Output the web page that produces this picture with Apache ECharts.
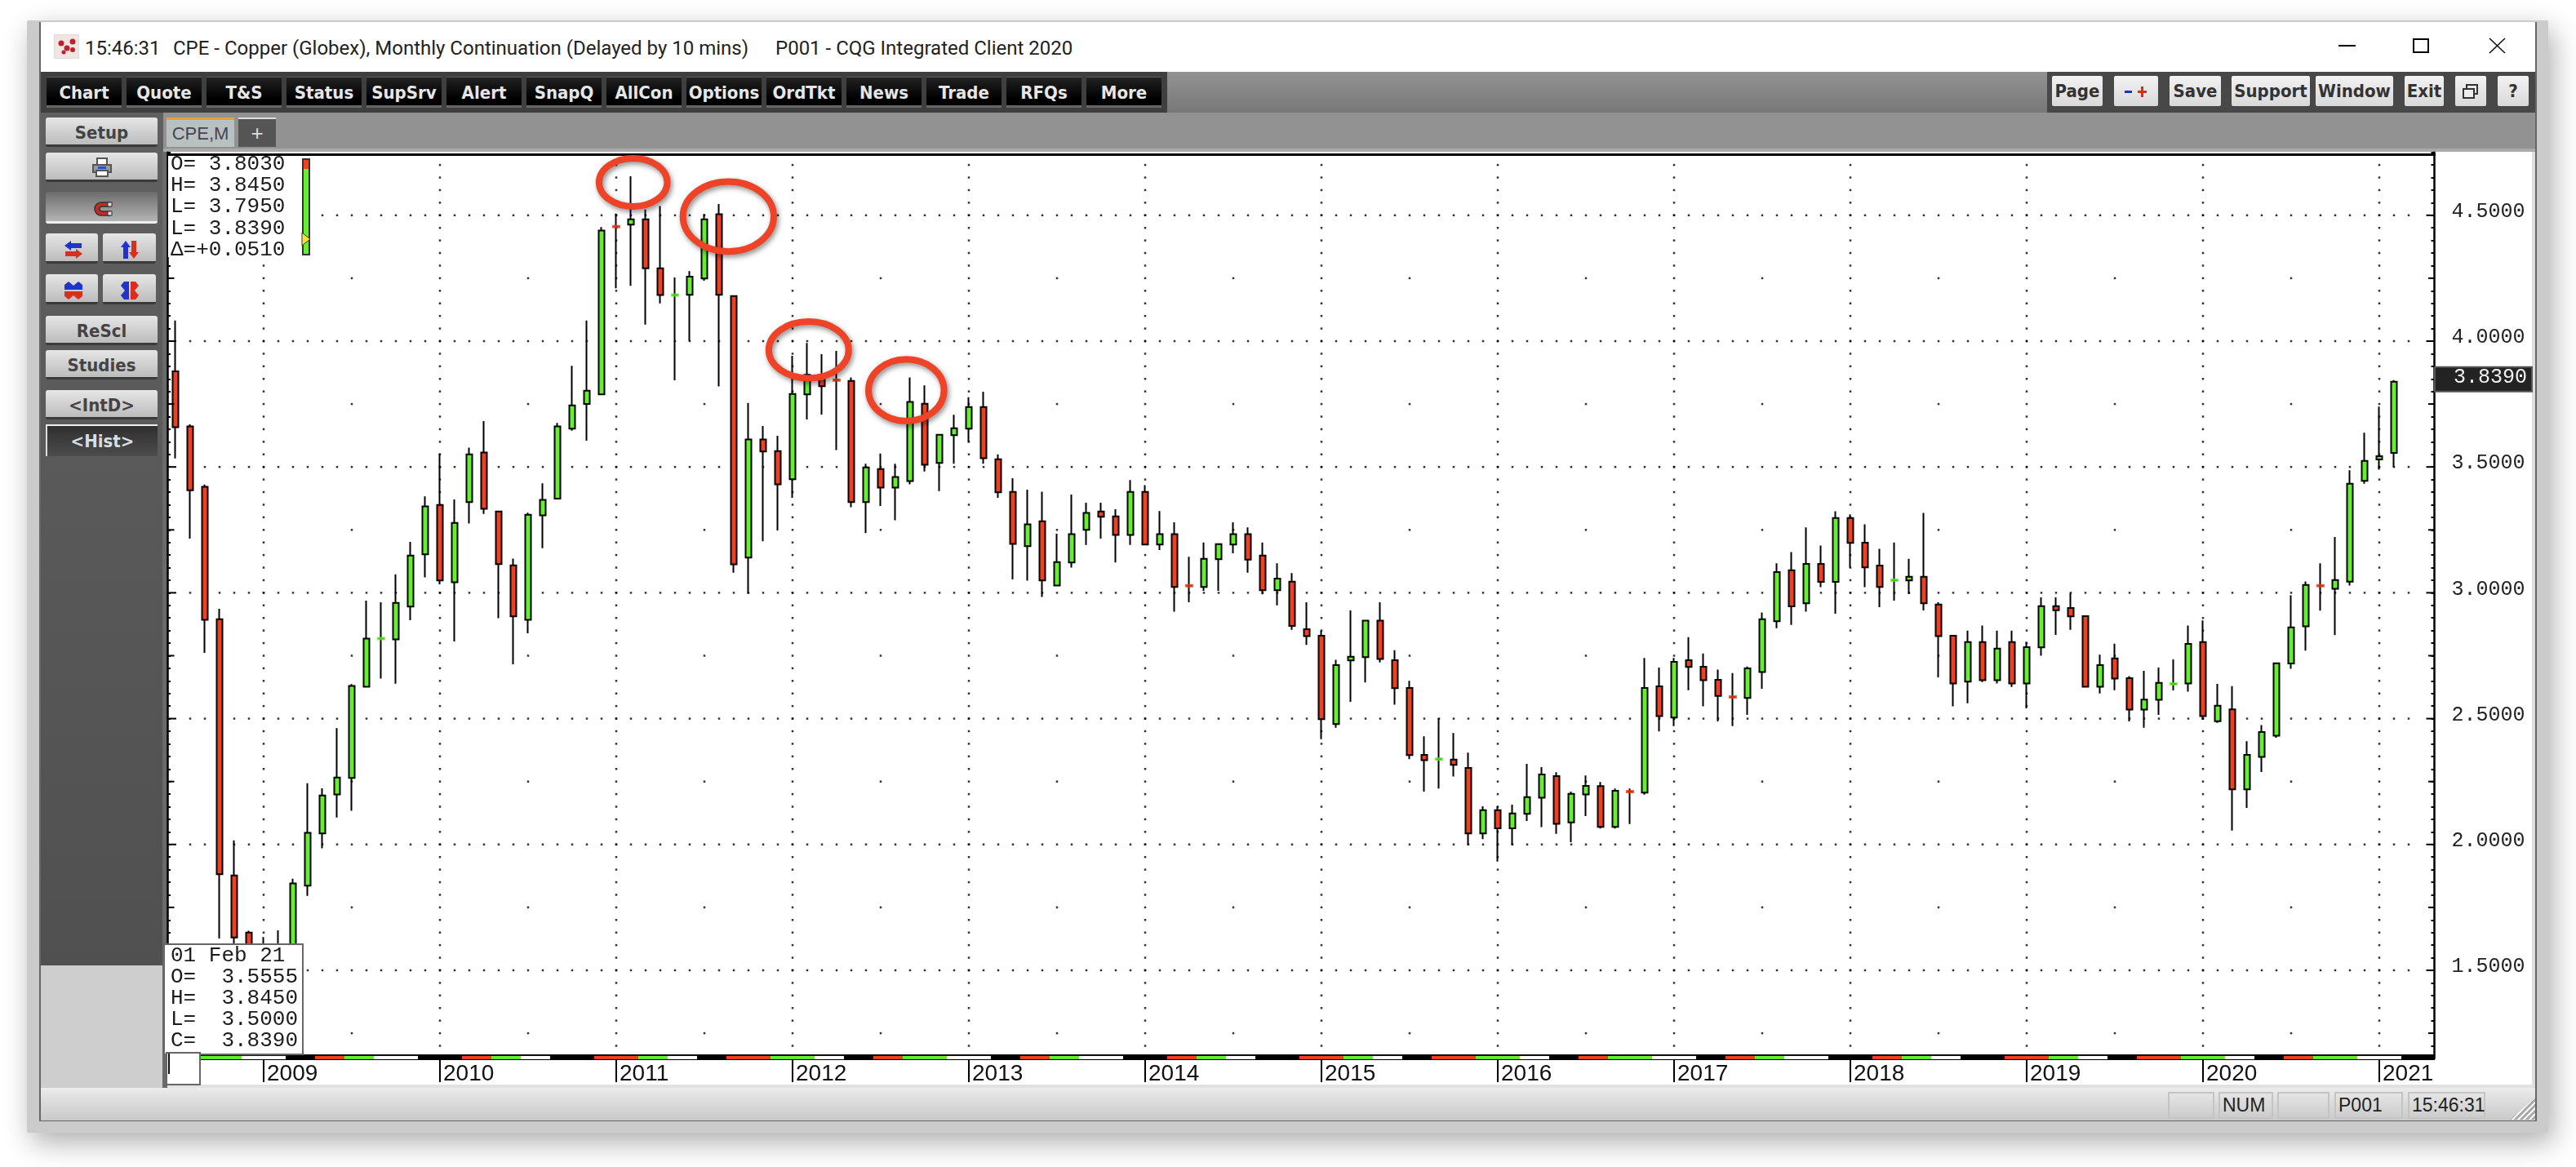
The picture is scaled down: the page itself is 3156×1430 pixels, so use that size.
<!DOCTYPE html>
<html lang="en">

<head>
    <meta charset="UTF-8">
    <title>CPE - Copper (Globex), Monthly Continuation</title>
    <script src="https://cdn.jsdelivr.net/npm/echarts@6/dist/echarts.min.js"></script>
    <style>
        html,
        body {
            margin: 0;
            padding: 0;
            width: 3156px;
            height: 1430px;
            background: #fff;
            overflow: hidden;
        }

        .box {
            position: absolute;
            box-sizing: border-box;
            white-space: pre;
            display: flex;
            align-items: center;
            justify-content: center;
            font-family: "Liberation Sans", sans-serif;
        }

        .plain {
            display: block;
        }

        .dark {
            background: linear-gradient(#222, #000 75%);
            border-top: 1px solid #5a5a5a;
            border-bottom: 3px solid #666;
            padding-top: 2px;
            color: #e6e6e6;
            font: bold 22px "DejaVu Sans Condensed", "DejaVu Sans", sans-serif;
        }

        .light {
            background: linear-gradient(#f2f2f2, #d9d9d9);
            border-radius: 2px;
            color: #333;
            font: bold 22px "DejaVu Sans Condensed", "DejaVu Sans", sans-serif;
        }

        .side {
            background: linear-gradient(#e6e6e6, #bcbcbc);
            border-radius: 3px;
            border-bottom: 3px solid #3a3a3a;
            padding-top: 3px;
            color: #444;
            font: bold 22px "DejaVu Sans Condensed", "DejaVu Sans", sans-serif;
        }

        .quote {
            font: 26px "Liberation Mono", monospace;
            color: #1c1c1c;
            line-height: 26px;
        }

        .cell {
            border: 2px solid #c4c4c4;
            color: #222;
            font-size: 23px;
            justify-content: flex-start;
            padding-left: 3px;
        }

        #chart {
            position: absolute;
            left: 0;
            top: 0;
            width: 3156px;
            height: 1430px;
            z-index: 2;
        }

        #chrome {
            position: absolute;
            left: 0;
            top: 0;
            z-index: 1;
        }

        #overlay {
            position: absolute;
            left: 0;
            top: 0;
            z-index: 3;
        }
    </style>
</head>

<body>
    <div id="chrome"></div>
    <div id="chart"></div>
    <div id="overlay"></div>
    <script>
        // monthly bars, Jul 2008 to Feb 2021
        const startYear = 2008;
        const startMonth = 6;
        const blankMonths = 2;

        const opens = [
            3.880, 3.661, 3.421, 2.895, 1.877, 1.650, 1.400, 1.450, 1.520, 1.836,
            2.044, 2.199, 2.264, 2.627, 2.818, 2.815, 2.945, 3.153, 3.349, 3.042,
            3.360, 3.557, 3.323, 3.109, 2.893, 3.308, 3.374, 3.652, 3.750, 3.788,
            4.455, 4.463, 4.484, 4.289, 4.183, 4.184, 4.249, 4.504, 4.179, 3.140,
            3.609, 3.563, 3.451, 3.788, 3.866, 3.845, 3.842, 3.360, 3.492, 3.418,
            3.444, 3.751, 3.516, 3.626, 3.652, 3.738, 3.531, 3.401, 3.185, 3.284,
            3.029, 3.120, 3.250, 3.323, 3.304, 3.230, 3.401, 3.192, 3.233, 3.028,
            3.023, 3.133, 3.192, 3.233, 3.148, 3.010, 3.044, 2.855, 2.829, 2.478,
            2.731, 2.744, 2.889, 2.732, 2.622, 2.356, 2.339, 2.337, 2.304, 2.044,
            2.136, 2.064, 2.122, 2.186, 2.272, 2.088, 2.199, 2.232, 2.070, 2.210,
            2.206, 2.628, 2.504, 2.732, 2.706, 2.654, 2.586, 2.582, 2.685, 2.887,
            3.090, 2.958, 3.115, 3.043, 3.297, 3.199, 3.108, 3.050, 3.049, 3.064,
            2.953, 2.829, 2.647, 2.804, 2.653, 2.804, 2.640, 2.783, 2.947, 2.940,
            2.907, 2.627, 2.739, 2.661, 2.536, 2.575, 2.638, 2.640, 2.804, 2.490,
            2.537, 2.219, 2.348, 2.432, 2.719, 2.867, 3.028, 3.016, 3.044, 3.445,
            3.530, 3.5555
        ];
        const closes = [
            3.658, 3.407, 2.893, 1.882, 1.630, 1.370, 1.420, 1.520, 1.845, 2.046,
            2.195, 2.266, 2.630, 2.818, 2.818, 2.960, 3.148, 3.343, 3.049, 3.278,
            3.550, 3.334, 3.114, 2.906, 3.310, 3.369, 3.661, 3.745, 3.803, 4.439,
            4.455, 4.484, 4.289, 4.183, 4.183, 4.256, 4.484, 4.184, 3.113, 3.609,
            3.561, 3.431, 3.790, 3.866, 3.821, 3.845, 3.360, 3.498, 3.418, 3.460,
            3.758, 3.509, 3.628, 3.654, 3.738, 3.535, 3.399, 3.194, 3.272, 3.049,
            3.122, 3.233, 3.317, 3.302, 3.230, 3.401, 3.192, 3.233, 3.023, 3.028,
            3.135, 3.193, 3.233, 3.132, 3.010, 3.056, 2.868, 2.828, 2.498, 2.713,
            2.746, 2.889, 2.737, 2.621, 2.355, 2.335, 2.339, 2.316, 2.044, 2.136,
            2.064, 2.123, 2.188, 2.278, 2.082, 2.201, 2.233, 2.070, 2.213, 2.210,
            2.622, 2.510, 2.726, 2.705, 2.653, 2.590, 2.586, 2.700, 2.895, 3.082,
            2.946, 3.115, 3.043, 3.297, 3.198, 3.101, 3.023, 3.050, 3.064, 2.958,
            2.828, 2.640, 2.804, 2.653, 2.778, 2.640, 2.784, 2.947, 2.931, 2.906,
            2.627, 2.713, 2.659, 2.536, 2.576, 2.642, 2.638, 2.797, 2.510, 2.551,
            2.219, 2.356, 2.447, 2.720, 2.863, 3.031, 3.028, 3.051, 3.433, 3.524,
            3.543, 3.839
        ];
        const lows = [
            3.534, 3.215, 2.761, 1.626, 1.520, 1.260, 1.300, 1.390, 1.480, 1.796,
            1.985, 2.107, 2.134, 2.627, 2.659, 2.639, 2.891, 3.061, 3.034, 2.807,
            3.275, 3.313, 2.899, 2.716, 2.839, 3.177, 3.374, 3.644, 3.604, 3.788,
            4.210, 4.220, 4.066, 4.150, 3.844, 4.001, 4.240, 3.820, 3.080, 2.996,
            3.205, 3.248, 3.377, 3.689, 3.708, 3.567, 3.340, 3.237, 3.345, 3.288,
            3.431, 3.482, 3.404, 3.513, 3.599, 3.513, 3.377, 3.053, 3.048, 2.983,
            3.029, 3.100, 3.190, 3.215, 3.120, 3.190, 3.192, 3.170, 2.925, 2.962,
            3.008, 3.008, 3.157, 3.080, 2.994, 2.950, 2.853, 2.793, 2.418, 2.464,
            2.567, 2.644, 2.723, 2.555, 2.339, 2.210, 2.222, 2.270, 1.997, 2.021,
            1.932, 1.997, 2.093, 2.069, 2.042, 2.009, 2.113, 2.063, 2.063, 2.081,
            2.198, 2.449, 2.470, 2.613, 2.549, 2.489, 2.470, 2.515, 2.619, 2.859,
            2.872, 2.925, 3.022, 2.917, 3.100, 3.022, 2.943, 2.969, 2.995, 2.930,
            2.664, 2.549, 2.561, 2.645, 2.640, 2.626, 2.541, 2.750, 2.833, 2.853,
            2.627, 2.600, 2.613, 2.489, 2.464, 2.515, 2.612, 2.607, 2.495, 2.483,
            2.055, 2.145, 2.288, 2.424, 2.698, 2.770, 2.929, 2.832, 3.029, 3.433,
            3.489, 3.500
        ];
        const highs = [
            4.082, 3.669, 3.430, 2.936, 2.016, 1.657, 1.632, 1.659, 1.864, 2.243,
            2.223, 2.462, 2.637, 2.969, 2.962, 3.073, 3.202, 3.383, 3.553, 3.371,
            3.577, 3.682, 3.323, 3.136, 3.318, 3.435, 3.675, 3.902, 4.082, 4.453,
            4.507, 4.655, 4.523, 4.537, 4.253, 4.278, 4.505, 4.545, 4.179, 3.754,
            3.663, 3.624, 3.942, 3.993, 3.948, 3.961, 3.856, 3.513, 3.553, 3.513,
            3.856, 3.824, 3.628, 3.707, 3.777, 3.799, 3.550, 3.455, 3.410, 3.402,
            3.235, 3.390, 3.358, 3.358, 3.332, 3.448, 3.428, 3.325, 3.280, 3.143,
            3.200, 3.193, 3.280, 3.260, 3.200, 3.117, 3.078, 2.962, 2.850, 2.734,
            2.930, 2.889, 2.962, 2.772, 2.650, 2.430, 2.502, 2.443, 2.365, 2.152,
            2.152, 2.158, 2.320, 2.307, 2.287, 2.210, 2.274, 2.248, 2.222, 2.222,
            2.741, 2.703, 2.741, 2.824, 2.759, 2.695, 2.681, 2.707, 2.922, 3.117,
            3.162, 3.260, 3.188, 3.324, 3.312, 3.272, 3.175, 3.200, 3.135, 3.317,
            2.962, 2.829, 2.850, 2.870, 2.850, 2.850, 2.805, 2.982, 2.982, 2.999,
            2.907, 2.754, 2.798, 2.669, 2.690, 2.703, 2.735, 2.870, 2.890, 2.638,
            2.629, 2.410, 2.474, 2.720, 2.990, 3.045, 3.117, 3.222, 3.487, 3.636,
            3.740, 3.845
        ];
        // months where open and close are the same: only a coloured dash is drawn
        const dojiGreen = [14, 34, 86, 117, 136];
        const dojiRed = [30, 45, 69, 99, 106, 146];

        const priceTicks = [1.5, 2.0, 2.5, 3.0, 3.5, 4.0, 4.5];
        const midTicks = [1.25, 1.75, 2.25, 2.75, 3.25, 3.75, 4.25];

        // r g w per month, the strip above the time axis
        const stripMonths = 'rrgggwwwkkrrggwwwkkkrrggwwkkkrrrggwwkkrrrgggwwkkrrgggwwwkkrrggwwwkkkrrggwwkkkrrrggwwkkrrrgggwwkkrrgggwwwkkrrggwwwkkkrrggwwkkkrrrggwwkkrrrgggwwkkrrgggwwwkk';

        // the four hand drawn rings
        const ringMonths = [31.15, 37.63, 43.1, 49.74];
        const ringPrices = [4.631, 4.495, 3.965, 3.805];
        const ringMonthRadius = [2.32, 3.09, 2.72, 2.57];
        const ringPriceRadius = [0.0957, 0.139, 0.1125, 0.123];

        const headerQuote = ['O= 3.8030', 'H= 3.8450', 'L= 3.7950', 'L= 3.8390', 'Δ=+0.0510'];
        const barQuote = ['01 Feb 21', 'O=  3.5555', 'H=  3.8450', 'L=  3.5000', 'C=  3.8390'];
        const lastPrice = 3.839;

        const RED = '#ef4023';
        const GREEN = '#66ee33';
        const stripColor = { r: RED, g: GREEN, w: '#fff' };

        const months = ['Jan', 'Feb', 'Mar', 'Apr', 'May', 'Jun', 'Jul', 'Aug', 'Sep', 'Oct', 'Nov', 'Dec'];
        const categories = [];
        for (let i = 0; i < opens.length + blankMonths; i++) {
            let m = startMonth + i;
            categories.push(months[m % 12] + ' ' + (startYear + Math.floor(m / 12)));
        }
        const isJanuary = i => categories[i].startsWith('Jan');

        // dotted grid
        const gridDots = [];
        for (let i = 1; i <= opens.length; i++) {
            priceTicks.forEach(p => gridDots.push([i, p]));
            if (isJanuary(i)) {
                for (let c = 120; c <= 470; c += 5) gridDots.push([i, c / 100]);
            }
            if (categories[i].startsWith('Jul')) {
                midTicks.forEach(p => gridDots.push([i, p]));
            }
        }

        function bandX(api, month) {
            return api.coord([0, 2])[0] + month * api.size([1, 0])[0];
        }

        function renderStrip(params, api) {
            let i = api.value(0);
            let color = stripColor[stripMonths[i]];
            if (!color) return null;
            let band = api.size([1, 0])[0];
            let bottom = params.coordSys.y + params.coordSys.height;
            return {
                type: 'rect',
                shape: { x: bandX(api, i) - band / 2, y: bottom - 3, width: band, height: 4 },
                style: { fill: color },
            };
        }

        function renderTick(params, api) {
            let y = api.coord([0, api.value(1)])[1];
            let len = api.value(2);
            let sys = params.coordSys;
            let right = sys.x + sys.width + 4.5;
            return {
                type: 'group',
                children: [{
                    type: 'line',
                    shape: { x1: sys.x, y1: y, x2: sys.x + len, y2: y },
                    style: { stroke: '#000', lineWidth: 2 },
                }, {
                    type: 'line',
                    shape: { x1: right, y1: y, x2: right - len, y2: y },
                    style: { stroke: '#000', lineWidth: 2 },
                }],
            };
        }

        function renderRing(params, api) {
            let i = params.dataIndex;
            let c = api.coord([0, ringPrices[i]]);
            let band = api.size([1, 0])[0];
            let edge = api.coord([0, ringPrices[i] + ringPriceRadius[i]]);
            return {
                type: 'ellipse',
                shape: {
                    cx: bandX(api, ringMonths[i]),
                    cy: c[1],
                    rx: ringMonthRadius[i] * band,
                    ry: c[1] - edge[1],
                },
                style: {
                    fill: 'none',
                    stroke: '#ee4326',
                    lineWidth: 8,
                    shadowBlur: 6,
                    shadowColor: 'rgba(0,0,0,0.45)',
                    shadowOffsetX: 2,
                    shadowOffsetY: 3,
                },
            };
        }

        function renderLastTag(params, api) {
            let y = api.coord([0, lastPrice])[1];
            let sys = params.coordSys;
            let x = sys.x + sys.width + 5;
            return {
                type: 'group',
                children: [{
                    type: 'rect',
                    shape: { x: x, y: y - 18, width: 119, height: 30 },
                    style: { fill: '#232323', stroke: '#555', lineWidth: 2 },
                }, {
                    type: 'text',
                    style: {
                        x: x + 113,
                        y: y - 5,
                        text: lastPrice.toFixed(4),
                        fill: '#f2f2f2',
                        font: '25px "Liberation Mono"',
                        align: 'right',
                        verticalAlign: 'middle',
                    },
                }],
            };
        }

        const chart = echarts.init(document.getElementById('chart'));
        const tickData = [];
        priceTicks.forEach(p => tickData.push([0, p, 10]));
        midTicks.forEach(p => tickData.push([0, p, 7.5]));

        function priceAxis(position, offset, showLabels) {
            return {
                type: 'value',
                position: position,
                offset: offset,
                min: 1.15,
                max: 4.75,
                interval: 0.05,
                splitLine: { show: false },
                axisLine: { show: true, lineStyle: { color: '#000', width: 2.5 } },
                axisTick: { show: true, inside: true, length: 4, lineStyle: { color: '#000', width: 2 } },
                axisLabel: {
                    show: showLabels,
                    margin: 21,
                    verticalAlign: 'bottom',
                    lineHeight: 9,
                    color: '#222',
                    fontFamily: 'Liberation Mono',
                    fontSize: 25,
                    hideOverlap: false,
                    formatter: v => Math.abs(v * 2 - Math.round(v * 2)) < 1e-6 ? v.toFixed(4) : '',
                },
            };
        }

        chart.setOption({
            animation: false,
            backgroundColor: 'transparent',
            grid: { left: 206, top: 186.7, width: 2772, height: 1110.2 },
            xAxis: {
                type: 'category',
                data: categories,
                axisLine: { show: false },
                axisTick: {
                    show: true,
                    alignWithLabel: true,
                    interval: i => isJanuary(i),
                    length: 29,
                    lineStyle: { color: '#000', width: 2 },
                },
                axisLabel: {
                    interval: i => isJanuary(i),
                    formatter: v => v.slice(-4),
                    align: 'left',
                    margin: 5,
                    padding: [0, 0, 0, 4],
                    color: '#111',
                    fontFamily: 'Liberation Sans',
                    fontSize: 28,
                    hideOverlap: false,
                },
            },
            yAxis: [priceAxis('right', 4.5, true), priceAxis('left', 1, false)],
            series: [{
                name: 'grid',
                type: 'scatter',
                silent: true,
                symbol: 'rect',
                symbolSize: 2.5,
                itemStyle: { color: '#000' },
                z: 1,
                data: gridDots,
            }, {
                name: 'CPE',
                type: 'candlestick',
                barWidth: 8,
                z: 2,
                itemStyle: {
                    color: GREEN,
                    color0: RED,
                    borderColor: '#000',
                    borderColor0: '#000',
                    borderColorDoji: '#000',
                    borderWidth: 2,
                },
                data: opens.map((o, i) => [o, closes[i], lows[i], highs[i]]),
            }, {
                name: 'doji up',
                type: 'scatter',
                symbol: 'rect',
                symbolSize: [10, 4],
                itemStyle: { color: GREEN },
                z: 3,
                data: dojiGreen.map(i => [i, closes[i]]),
            }, {
                name: 'doji down',
                type: 'scatter',
                symbol: 'rect',
                symbolSize: [10, 4],
                itemStyle: { color: RED },
                z: 3,
                data: dojiRed.map(i => [i, closes[i]]),
            }, {
                name: 'strip',
                type: 'custom',
                silent: true,
                z: 3,
                renderItem: renderStrip,
                data: categories.map((c, i) => [i, 2]),
            }, {
                name: 'ticks',
                type: 'custom',
                silent: true,
                z: 3,
                renderItem: renderTick,
                data: tickData,
            }, {
                name: 'rings',
                type: 'custom',
                silent: true,
                z: 5,
                renderItem: renderRing,
                data: ringMonths.map((m, i) => [0, ringPrices[i]]),
            }, {
                name: 'last',
                type: 'custom',
                silent: true,
                z: 5,
                renderItem: renderLastTag,
                data: [[0, lastPrice]],
            }],
        });

        // window chrome around the chart
        const chrome = document.getElementById('chrome');
        const overlay = document.getElementById('overlay');

        function addBox(parent, x, y, w, h, cls, text, style) {
            let el = document.createElement('div');
            el.className = 'box ' + (cls || '');
            el.style.cssText = `left:${x}px;top:${y}px;width:${w}px;height:${h}px;` + (style || '');
            if (text) el.textContent = text;
            parent.appendChild(el);
            return el;
        }

        function addIcon(parent, x, y, w, h, svg) {
            let el = addBox(parent, x, y, w, h, 'plain');
            el.innerHTML = `<svg width="${w}" height="${h}" viewBox="0 0 ${w} ${h}">${svg}</svg>`;
        }

        // frame and panels
        addBox(chrome, 33, 25, 3089, 1363, '', '', 'background:#cbcbcb;box-shadow:6px 12px 34px rgba(0,0,0,0.32);border-radius:2px;');
        addBox(chrome, 48, 27, 3060, 1347, '', '', 'background:#fff;border:2px solid #666;border-top:none;');
        addBox(chrome, 50, 88, 3056, 50, '', '', 'background:linear-gradient(#929292,#787878);');
        addBox(chrome, 50, 88, 1380, 50, '', '', 'background:#3f3f3f;');
        addBox(chrome, 2508, 88, 598, 50, '', '', 'background:#484848;');
        addBox(chrome, 50, 138, 3056, 48, '', '', 'background:#929292;border-bottom:4px solid #aaa;');
        addBox(chrome, 50, 138, 150, 1045, '', '', 'background:linear-gradient(#606060,#505050);');
        addBox(chrome, 50, 1183, 150, 150, '', '', 'background:#cecece;');
        addBox(chrome, 199, 186, 6, 1147, '', '', 'background:#6a6a6a;');
        addBox(chrome, 50, 1333, 3056, 40, '', '', 'background:linear-gradient(#ebebeb,#c9c9c9);');
        addBox(chrome, 205, 1329, 2901, 4, '', '', 'background:#e2e2e2;');
        addBox(chrome, 3102, 186, 4, 1147, '', '', 'background:#dedede;');

        // plot frame
        addBox(chrome, 205, 188, 2779, 3, '', '', 'background:#000;');
        addBox(chrome, 206, 1292, 2777, 7, '', '', 'background:#000;');

        // title bar
        addBox(chrome, 66, 42, 31, 30, 'plain', '', 'background:#f3e4e4;border:1px solid #ddd;');
        addIcon(chrome, 66, 42, 31, 30, '<g fill="#b8242c"><circle cx="9" cy="11" r="3.5"/><circle cx="16" cy="17" r="3.5"/><circle cx="23" cy="9" r="3.5"/><circle cx="12" cy="22" r="2.5"/><circle cx="23" cy="19" r="3"/></g>');
        const titleFont = 'font-family:Roboto,sans-serif;font-size:24px;color:#222;justify-content:flex-start;';
        addBox(chrome, 104, 42, 100, 34, '', '15:46:31', titleFont);
        addBox(chrome, 212, 42, 730, 34, '', 'CPE - Copper (Globex), Monthly Continuation (Delayed by 10 mins)', titleFont);
        addBox(chrome, 950, 42, 380, 34, '', 'P001 - CQG Integrated Client 2020', titleFont);
        addBox(chrome, 2865, 55, 21, 2, '', '', 'background:#000;');
        addBox(chrome, 2956, 47, 20, 18, '', '', 'border:2px solid #000;');
        addIcon(chrome, 3049, 46, 21, 20, '<path d="M1 1 L20 19 M20 1 L1 19" stroke="#111" stroke-width="1.6"/>');

        // top buttons
        ['Chart', 'Quote', 'T&S', 'Status', 'SupSrv', 'Alert', 'SnapQ', 'AllCon', 'Options', 'OrdTkt', 'News', 'Trade', 'RFQs', 'More']
        .forEach((name, i) => addBox(chrome, 57 + 98 * i, 94, 92, 38, 'dark', name));
        const rightButtons = [
            ['Page', 2514, 62], ['', 2590, 54], ['Save', 2658, 63], ['Support', 2734, 96],
            ['Window', 2837, 95], ['Exit', 2946, 48], ['', 3008, 38], ['?', 3060, 38],
        ];
        rightButtons.forEach(b => addBox(chrome, b[1], 93, b[2], 37, 'light', b[0]));
        addIcon(chrome, 2600, 102, 34, 20, '<rect x="3" y="9" width="9" height="3" fill="#2233bb"/><rect x="19" y="9" width="11" height="3" fill="#d0301f"/><rect x="23" y="4" width="3" height="13" fill="#d0301f"/>');
        addIcon(chrome, 3016, 102, 22, 20, '<rect x="6" y="2" width="13" height="11" fill="none" stroke="#333" stroke-width="2"/><rect x="2" y="7" width="13" height="11" fill="#eee" stroke="#333" stroke-width="2"/>');

        // tabs
        addBox(chrome, 204, 144, 83, 36, '', 'CPE,M', 'background:#b9c0c0;border-top:3px solid #e8a03c;color:#445;font:22px "Liberation Sans Narrow","Liberation Sans",sans-serif;');
        addBox(chrome, 292, 144, 46, 36, '', '+', 'background:#555;border-top:2px solid #ddd;color:#ddd;font-size:26px;');

        // side buttons
        addBox(chrome, 56, 144, 137, 36, 'side', 'Setup');
        addBox(chrome, 56, 187, 137, 36, 'side');
        addIcon(chrome, 113, 193, 24, 24, '<rect x="6" y="1" width="12" height="8" fill="#fff" stroke="#555" stroke-width="2"/><rect x="1" y="9" width="22" height="9" fill="#999" stroke="#555" stroke-width="2"/><rect x="5" y="16" width="14" height="7" fill="#fff" stroke="#555" stroke-width="2"/><rect x="7" y="11" width="10" height="3" fill="#2255cc"/>');
        addBox(chrome, 56, 235, 137, 39, '', '', 'background:linear-gradient(#6c6c6c,#b4b4b4);border-bottom:3px solid #eee;border-radius:3px;');
        addIcon(chrome, 115, 246, 24, 20, '<path d="M20 2 H9 A8 8 0 0 0 9 18 H20 V13 H10 A3 3 0 0 1 10 7 H20 Z" fill="#c9281e" stroke="#333" stroke-width="1.5"/><rect x="17" y="2" width="5" height="5" fill="#ddd" stroke="#333"/><rect x="17" y="13" width="5" height="5" fill="#ddd" stroke="#333"/>');
        [[56, 286], [126, 286], [56, 336], [126, 336]].forEach(p => addBox(chrome, p[0], p[1], p[0] == 56 ? 64 : 65, 37, 'side'));
        addIcon(chrome, 78, 294, 24, 24, '<path d="M1 7 L9 1 V4 H22 V10 H9 V13 Z" fill="#2233cc"/><path d="M23 17 L15 11 V14 H2 V20 H15 V23 Z" fill="#d8301f"/>');
        addIcon(chrome, 147, 294, 24, 24, '<path d="M7 1 L1 9 H4 V23 H10 V9 H13 Z" fill="#2233cc"/><path d="M17 23 L11 15 H14 V1 H20 V15 H23 Z" fill="#d8301f"/>');
        addIcon(chrome, 78, 344, 24, 24, '<path d="M1 5 L6 1 L12 6 L18 1 L23 5 V11 H1 Z" fill="#2233cc"/><path d="M1 19 L6 23 L12 18 L18 23 L23 19 V13 H1 Z" fill="#d8301f"/>');
        addIcon(chrome, 147, 344, 24, 24, '<path d="M5 1 L1 6 L6 12 L1 18 L5 23 H11 V1 Z" fill="#2233cc"/><path d="M19 1 L23 6 L18 12 L23 18 L19 23 H13 V1 Z" fill="#d8301f"/>');
        addBox(chrome, 56, 387, 137, 36, 'side', 'ReScl');
        addBox(chrome, 56, 429, 137, 36, 'side', 'Studies');
        addBox(chrome, 56, 478, 137, 36, 'side', '<IntD>');
        addBox(chrome, 56, 520, 137, 39, '', '<Hist>', 'background:linear-gradient(#2f2f2f,#4c4c4c);border-top:2px solid #eee;border-left:2px solid #ddd;color:#d8dde4;font:bold 22px "DejaVu Sans Condensed",sans-serif;');

        // status bar
        [[2656, 57, ''], [2718, 67, 'NUM'], [2790, 64, ''], [2860, 84, 'P001'], [2950, 95, '15:46:31']]
        .forEach(c => addBox(chrome, c[0], 1338, c[1], 33, 'cell', c[2]));
        addBox(chrome, 3075, 1345, 31, 27, '', '', 'clip-path:polygon(100% 0,100% 100%,0 100%);background:repeating-linear-gradient(135deg,#f4f4f4 0 2px,#aaa 2px 5px);');

        // quote panels on top of the chart
        addBox(overlay, 206, 191, 179, 124, 'plain', '', 'background:#fff;');
        headerQuote.forEach((t, i) => addBox(overlay, 209, 188 + 26.2 * i, 150, 26, 'plain quote', t));
        addBox(overlay, 370, 194, 10, 119, 'plain', '', 'background:#66ee33;border:2px solid #333;');
        addBox(overlay, 372, 196, 6, 11, 'plain', '', 'background:#ef4023;');
        addIcon(overlay, 368, 284, 14, 18, '<path d="M2 1 L12 9 L2 17 Z" fill="#f5e23a" stroke="#333"/>');

        addBox(overlay, 200, 1156, 172, 137, 'plain', '', 'background:#fff;border:2.5px solid #666;');
        barQuote.forEach((t, i) => addBox(overlay, 209, 1158 + 26 * i, 160, 26, 'plain quote', t));
        addBox(overlay, 203, 1289, 43, 41, 'plain', '', 'background:#fff;border:2.5px solid #666;');
        addBox(overlay, 206, 1291, 2, 25, 'plain', '', 'background:#111;');
    </script>
</body>

</html>
